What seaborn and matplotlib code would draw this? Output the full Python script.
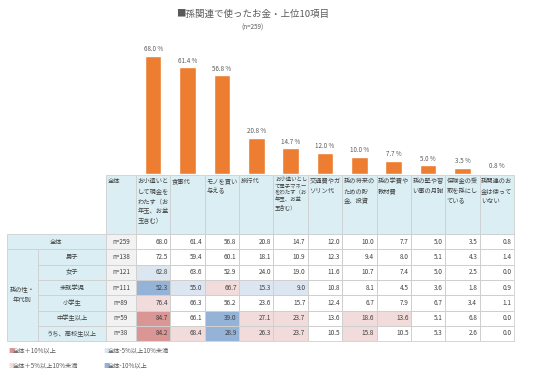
import numpy as np
import pandas as pd
import matplotlib
matplotlib.use("Agg")
import matplotlib.pyplot as plt
from matplotlib.colors import ListedColormap
from matplotlib.patches import Rectangle
import seaborn as sns

# --- data ---
title = "■孫関連で使ったお金・上位10項目"
subtitle = "(n=259)"

items = [
    "お小遣いと\nして現金を\nわたす（お\n年玉、お盆\n玉含む）",
    "食事代",
    "モノを買い\n与える",
    "旅行代",
    "お小遣いとし\nて電子マネー\nをわたす（お\n年玉、お盆\n玉含む）",
    "交通費やガ\nソリン代",
    "孫の将来の\nための貯\n金、投資",
    "孫の学費や\n教材費",
    "孫の塾や習\nい事の月謝",
    "保険金の受\n取を孫にし\nている",
    "孫関連のお\n金は使って\nいない",
]
total_header = "全体"
group_label = "孫の性・\n年代別"
row_labels = ["全体", "男子", "女子", "未就学児", "小学生", "中学生以上", "うち、高校生以上"]
n_counts = [259, 138, 121, 111, 89, 59, 38]

total = [68.0, 61.4, 56.8, 20.8, 14.7, 12.0, 10.0, 7.7, 5.0, 3.5, 0.8]
boys = [72.5, 59.4, 60.1, 18.1, 10.9, 12.3, 9.4, 8.0, 5.1, 4.3, 1.4]
girls = [62.8, 63.6, 52.9, 24.0, 19.0, 11.6, 10.7, 7.4, 5.0, 2.5, 0.0]
preschool = [52.3, 55.0, 66.7, 15.3, 9.0, 10.8, 8.1, 4.5, 3.6, 1.8, 0.9]
elementary = [76.4, 66.3, 56.2, 23.6, 15.7, 12.4, 6.7, 7.9, 6.7, 3.4, 1.1]
junior_plus = [84.7, 66.1, 39.0, 27.1, 23.7, 13.6, 18.6, 13.6, 5.1, 6.8, 0.0]
high_plus = [84.2, 68.4, 28.9, 26.3, 23.7, 10.5, 15.8, 10.5, 5.3, 2.6, 0.0]

legend_labels = ["全体＋10%以上", "全体-5%以上10%未満", "全体＋5%以上10%未満", "全体-10%以上"]

# --- styles ---
ORANGE = "#ED7D31"
HEAD_BG = "#DAEEF3"
N_BG = "#F2F2F2"
RED = "#DA9694"
PINK = "#F2DCDB"
LBLUE = "#DCE6F1"
BLUE = "#95B3D7"
GRID = "#CFCFCF"
TXT = "#404040"
GRAY = "#595959"

sns.set_style("white")
plt.rcParams["font.family"] = ["Noto Sans CJK JP", "DejaVu Sans"]

W, H = 536, 376
fig = plt.figure(figsize=(W / 100, H / 100), dpi=100)


def fx(x):
    return x / W


def fy(y):
    return 1 - y / H


# layout in pixels
tab_left, tab_right = 136, 514
head_top, head_bot = 175, 234
n_rows = len(row_labels)
rh = 15.3
tab_bot = head_bot + rh * n_rows
cw = (tab_right - tab_left) / len(items)

# --- bars ---
ax_bar = fig.add_axes([fx(tab_left), fy(174), fx(tab_right - tab_left), (174 - 40) / H])
bar_df = pd.DataFrame({"item": items, "value": total})
sns.barplot(data=bar_df, x="item", y="value", color=ORANGE, width=0.48,
            saturation=1, ax=ax_bar)
ax_bar.set_xlim(-0.5, len(items) - 0.5)
ax_bar.set_ylim(0, 77.2)
ax_bar.bar_label(ax_bar.containers[0], labels=[f"{v:.1f} %" for v in total],
                 padding=2, fontsize=4.5, color=GRAY)
ax_bar.axis("off")

# --- table cells (heatmap) ---
table = np.array([total, boys, girls, preschool, elementary, junior_plus, high_plus])
diff = np.round(table - table[0], 1)
codes = np.zeros_like(table)
codes[(diff >= 5) & (diff < 10)] = 1
codes[diff >= 10] = 2
codes[(diff <= -5) & (diff > -10)] = 3
codes[diff <= -10] = 4
annot = np.array([[f"{v:.1f}" for v in r] for r in table])

ax_hm = fig.add_axes([fx(tab_left), fy(tab_bot), fx(tab_right - tab_left), (tab_bot - head_bot) / H])
sns.heatmap(codes, cmap=ListedColormap(["white", PINK, RED, LBLUE, BLUE]),
            vmin=-0.5, vmax=4.5, annot=annot, fmt="", cbar=False,
            linewidths=0.6, linecolor=GRID, xticklabels=False, yticklabels=False,
            annot_kws={"fontsize": 4.6, "color": TXT}, ax=ax_hm)
for t in ax_hm.texts:
    x, y = t.get_position()
    t.set_position((x + 0.43, y))
    t.set_ha("right")
for s in ax_hm.spines.values():
    s.set_visible(True)
    s.set_color(GRID)
    s.set_linewidth(0.6)

# --- overlay: headers, labels, title, legend ---
ov = fig.add_axes([0, 0, 1, 1])
ov.set_xlim(0, W)
ov.set_ylim(H, 0)
ov.axis("off")


def cell(x, y, w, h, fc):
    ov.add_patch(Rectangle((x, y), w, h, facecolor=fc, edgecolor=GRID, linewidth=0.6))


# header
cell(106, head_top, tab_left - 106, head_bot - head_top, HEAD_BG)
ov.text(108, head_top + 2, total_header, fontsize=4.5, color=TXT, ha="left", va="top")
for i, lab in enumerate(items):
    x0 = tab_left + i * cw
    cell(x0, head_top, cw, head_bot - head_top, HEAD_BG)
    fs = 3.9 if i == 4 else 4.5
    ov.text(x0 + 1.5, head_top + 2, lab, fontsize=fs, color=TXT, ha="left", va="top",
            linespacing=1.35)

# row labels and n column
for i, lab in enumerate(row_labels):
    y0 = head_bot + i * rh
    if i == 0:
        cell(7, y0, 99, rh, HEAD_BG)
        ov.text(56.5, y0 + rh / 2, lab, fontsize=4.5, color=TXT, ha="center", va="center")
    else:
        cell(38, y0, 68, rh, HEAD_BG)
        ov.text(72, y0 + rh / 2, lab, fontsize=4.5, color=TXT, ha="center", va="center")
    cell(106, y0, tab_left - 106, rh, N_BG)
    ov.text(121, y0 + rh / 2, f"n={n_counts[i]}", fontsize=4.5, color=TXT,
            ha="center", va="center")
cell(7, head_bot + rh, 31, rh * (n_rows - 1), HEAD_BG)
ov.text(22.5, head_bot + rh + rh * (n_rows - 1) / 2, group_label, fontsize=4.5,
        color=TXT, ha="center", va="center", linespacing=1.4)

# title
ov.text(253, 14, title, fontsize=6.8, color=GRAY, ha="center", va="center")
ov.text(253, 28, subtitle, fontsize=4.5, color=GRAY, ha="center", va="center")

# legend
leg_colors = [RED, LBLUE, PINK, BLUE]
leg_pos = [(8, 351), (103, 351), (8, 366), (103, 366)]
for (lx, ly), c, lab in zip(leg_pos, leg_colors, legend_labels):
    ov.text(lx, ly, "■", fontsize=4.5, color=c, ha="left", va="center")
    ov.text(lx + 5, ly, lab, fontsize=4.5, color=GRAY, ha="left", va="center")

fig.savefig("out.png", dpi=100)
plt.close(fig)
